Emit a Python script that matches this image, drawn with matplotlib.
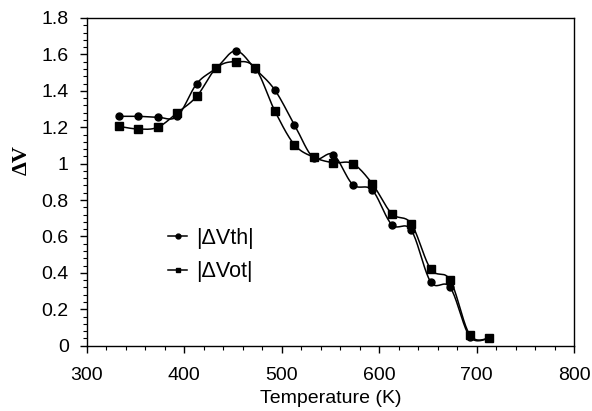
import numpy as np
import matplotlib
matplotlib.use("Agg")
import matplotlib.pyplot as plt
from matplotlib.ticker import MultipleLocator, FixedLocator

plt.rcParams['font.family'] = ['Liberation Sans', 'DejaVu Sans']

temperature = [333, 353, 373, 393, 413, 433, 453, 473, 493, 513,
               533, 553, 573, 593, 613, 633, 653, 673, 693, 713]
dvth = [1.26, 1.26, 1.255, 1.26, 1.44, 1.525, 1.62, 1.52, 1.405, 1.215,
        1.03, 1.05, 0.885, 0.855, 0.665, 0.635, 0.35, 0.32, 0.05, 0.04]
dvot = [1.205, 1.19, 1.20, 1.28, 1.37, 1.525, 1.56, 1.525, 1.29, 1.105,
        1.035, 1.005, 1.0, 0.89, 0.725, 0.67, 0.42, 0.36, 0.06, 0.04]
labels = ['|ΔVth|', '|ΔVot|']
yticks = [0, 0.2, 0.4, 0.6, 0.8, 1.0, 1.2, 1.4, 1.6, 1.8]
ytick_labels = ['0', '0.2', '0.4', '0.6', '0.8', '1', '1.2', '1.4', '1.6', '1.8']
xticks = [300, 400, 500, 600, 700, 800]


def smooth(x, y, n=20):
    x = np.asarray(x, float)
    y = np.asarray(y, float)
    px = np.concatenate([[x[0]], x, [x[-1]]])
    py = np.concatenate([[y[0]], y, [y[-1]]])
    xs, ys = [], []
    for i in range(1, len(px) - 2):
        p0, p1, p2, p3 = (np.array([px[j], py[j]]) for j in (i - 1, i, i + 1, i + 2))
        c1 = p1 + (p2 - p0) / 6.0
        c2 = p2 - (p3 - p1) / 6.0
        t = np.linspace(0, 1, n)[:, None]
        b = ((1 - t) ** 3) * p1 + 3 * ((1 - t) ** 2) * t * c1 + 3 * (1 - t) * t ** 2 * c2 + t ** 3 * p2
        xs.append(b[:, 0])
        ys.append(b[:, 1])
    return np.concatenate(xs), np.concatenate(ys)


fig = plt.figure(figsize=(5.92, 4.11), dpi=100)
ax = fig.add_axes([86.7 / 592, 1 - 345.7 / 411, (574 - 86.7) / 592, (345.7 - 18) / 411])

for vals, mk, ms, lab in [(dvth, 'o', 5, labels[0]), (dvot, 's', 5.5, labels[1])]:
    sx, sy = smooth(temperature, vals)
    ax.plot(sx, sy, color='black', lw=1.1)
    ax.plot(temperature, vals, linestyle='none', marker=mk, ms=ms, color='black')
    ax.plot([], [], color='black', lw=1.1, marker=mk, ms=3.5, label=lab)

ax.set_xlim(300, 800)
ax.set_ylim(0, 1.8)
ax.xaxis.set_major_locator(FixedLocator(xticks))
ax.xaxis.set_minor_locator(MultipleLocator(20))
ax.yaxis.set_major_locator(FixedLocator(yticks))
ax.set_yticklabels(ytick_labels)
ax.yaxis.set_minor_locator(MultipleLocator(0.04))
ax.tick_params(which='both', direction='out', top=False, right=False, labelsize=14)
ax.tick_params(axis='x', which='major', pad=10)
ax.tick_params(axis='y', which='major', pad=8)
ax.tick_params(which='major', length=5, width=1)
ax.tick_params(which='minor', length=3, width=0.8)
for s in ax.spines.values():
    s.set_linewidth(1.0)

ax.set_xlabel('Temperature (K)', fontsize=14)
ax.xaxis.set_label_coords(0.5, -(398 - 345.7) / 327.7, transform=ax.transAxes)
ax.xaxis.label.set_va('center')
ax.set_ylabel('ΔV', fontsize=16, fontweight='bold', family=['Liberation Serif', 'DejaVu Serif'])
ax.yaxis.set_label_coords(-(86.7 - 22) / 487.3, (345.7 - 160) / 327.7, transform=ax.transAxes)
ax.yaxis.label.set_va('center')

leg = ax.legend(loc='center left', bbox_to_anchor=((168 - 86.7) / 487.3, (345.7 - 255) / 327.7),
                frameon=False, fontsize=15.5, handlelength=0.9, handletextpad=0.4,
                labelspacing=0.6, borderpad=0, borderaxespad=0)

fig.savefig('out.png', dpi=100)
